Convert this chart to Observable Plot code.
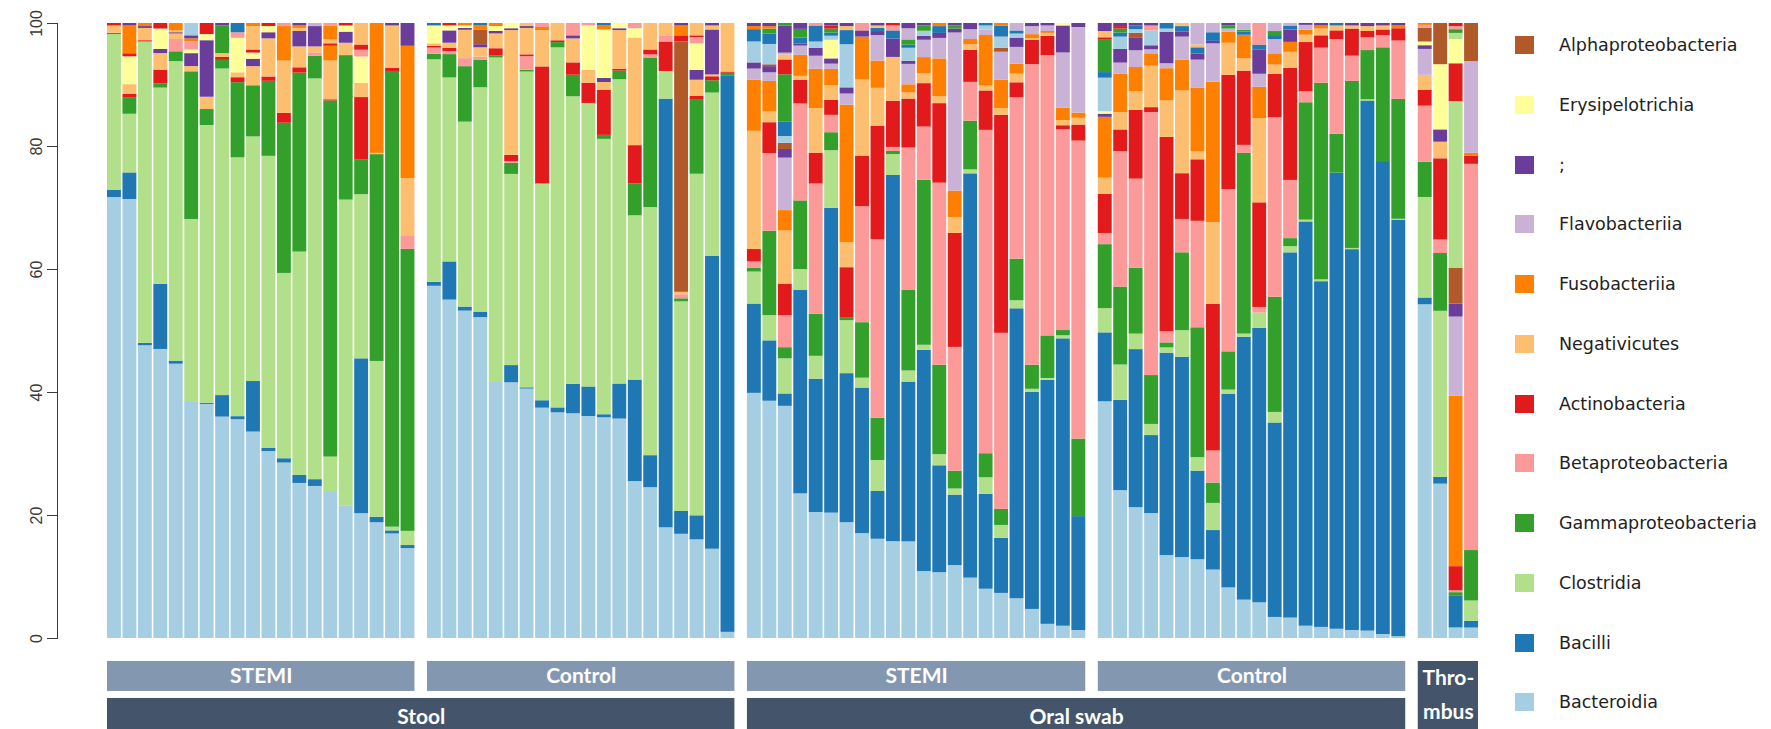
<!DOCTYPE html>
<html><head><meta charset="utf-8">
<script src="https://cdn.jsdelivr.net/npm/d3@7"></script>
<script src="https://cdn.jsdelivr.net/npm/@observablehq/plot@0.6"></script>
<style>
body{margin:0;background:#fff;}
#wrap{position:relative;width:1771px;height:729px;overflow:hidden;background:#fff;}
#wrap svg{position:absolute;left:0;top:0;}
.li{position:absolute;left:1515px;height:20px;display:flex;align-items:center;font-family:"DejaVu Sans",sans-serif;font-size:17.5px;color:#222;white-space:nowrap;}
.sw{width:19px;height:18px;margin-right:25px;flex:none;}
</style></head><body><div id="wrap"></div>
<script>
// class names (stacking order from bottom) and their colours (RColorBrewer "Paired")
const taxa = ["Bacteroidia","Bacilli","Clostridia","Gammaproteobacteria","Betaproteobacteria","Actinobacteria","Negativicutes","Fusobacteriia","Flavobacteriia",";","Erysipelotrichia","Alphaproteobacteria"];
const colors = ["#a6cee3","#1f78b4","#b2df8a","#33a02c","#fb9a99","#e31a1c","#fdbf6f","#ff7f00","#cab2d6","#6a3d9a","#ffff99","#b15928"];
const legendOrder = [11,10,9,8,7,6,5,4,3,2,1,0];
const groupLabels = ["STEMI","Control","STEMI","Control",null];
const siteLabels = ["Stool","Oral swab","Thro-\nmbus"];
const sitePanels = [[0,1],[2,3],[4,4]];

// each bar: [class slot, relative abundance %] from bottom to top; slots >= 12 are further classes (colours cycle)
const stoolSTEMI = [
 [[0,71.7],[1,1.2],[2,25.3],[3,0.2],[6,1.2],[17,0.4]],
 [[0,71.1],[1,4.3],[2,9.5],[3,2.7],[5,0.5],[6,1.6],[10,4.5],[17,0.5],[19,4.5],[21,0.4]],
 [[0,47.6],[1,0.4],[2,49],[5,0.2],[6,2],[9,0.3],[19,0.5]],
 [[0,47],[1,10.6],[2,31.9],[3,0.7],[5,2.2],[6,2.7],[9,0.7],[10,3.3],[17,0.9]],
 [[0,44.6],[1,0.5],[2,48.7],[3,1.6],[4,2],[6,0.9],[9,0.2],[18,0.3],[19,1.2]],
 [[0,38.5],[2,29.6],[3,24],[6,0.85],[9,2.1],[10,0.6],[16,1.3],[19,0.5],[21,0.5],[24,2]],
 [[0,38.1],[1,0.2],[2,45.2],[3,2.6],[6,2],[9,9.2],[10,1],[17,1.8]],
 [[0,36],[1,3.5],[2,53.1],[3,1.4],[5,0.5],[6,0.6],[15,4.5],[21,0.4]],
 [[0,35.5],[1,0.5],[2,42],[3,12.2],[5,0.8],[6,0.8],[10,5.6],[16,0.9],[25,1.5]],
 [[0,33.5],[1,8.2],[2,39.7],[3,8.3],[6,3.1],[9,1.2],[10,1],[17,0.5],[18,3.8],[19,0.5]],
 [[0,30.4],[1,0.5],[2,47.5],[3,12.2],[5,0.7],[6,6.2],[9,1],[10,1],[17,0.5]],
 [[0,28.5],[1,0.7],[2,30.1],[3,24.4],[5,1.6],[6,8.5],[7,5.6],[16,0.5]],
 [[0,25.2],[1,1.3],[2,36.3],[3,29.1],[5,0.85],[6,3.4],[9,2.5],[18,0.5],[19,0.4],[21,0.4]],
 [[0,24.7],[1,1.1],[2,65.1],[3,3.7],[4,0.5],[6,1],[9,3.3],[20,0.5]],
 [[0,23.9],[2,5.6],[3,57.9],[5,0.2],[6,6.3],[7,2.4],[17,0.4],[18,0.7],[19,2.2],[28,0.4]],
 [[0,21.5],[2,49.5],[3,23.4],[6,2],[9,1.8],[10,1],[17,0.4]],
 [[0,20.3],[1,25.2],[2,26.7],[3,5.7],[5,10.1],[6,2.3],[10,4.3],[16,1.1],[17,0.85],[18,3.5]],
 [[0,18.8],[1,0.9],[2,25.3],[3,33.6],[6,0.2],[7,21.1]],
 [[0,17],[1,0.5],[2,0.6],[3,74.1],[5,0.5],[6,6.9],[9,0.4]],
 [[0,14.6],[1,0.5],[2,2.3],[3,45.8],[4,2.1],[6,9.4],[7,21.5],[9,3.7]]
];
const stoolControl = [
 [[0,57.3],[1,0.65],[2,36.2],[3,0.9],[4,1],[5,0.3],[6,0.4],[10,2.9],[13,0.4]],
 [[0,55],[1,6.2],[2,29.9],[3,3.8],[4,0.5],[5,0.5],[6,0.85],[9,2],[10,0.8],[17,0.4]],
 [[0,53.1],[1,0.65],[2,30],[3,9],[4,1.3],[6,4.6],[9,0.3],[10,0.4],[19,0.4]],
 [[0,52.2],[1,0.9],[2,36.5],[3,4.5],[4,0.5],[6,1.5],[9,0.5],[11,2.4],[19,0.65],[25,0.4]],
 [[0,41.75],[2,52.6],[3,0.3],[5,1.2],[6,2.4],[9,0.4],[10,0.8],[19,0.5]],
 [[0,41.6],[1,2.8],[2,31.1],[3,1.8],[4,0.3],[5,1],[6,20.3],[9,0.3],[10,0.85]],
 [[0,40.6],[1,0.2],[2,51.4],[3,0.3],[4,2.2],[5,0.3],[6,4.3],[9,0.3],[18,0.5]],
 [[0,37.4],[1,1.2],[2,35.2],[5,19],[6,5.9],[7,0.5],[16,0.65]],
 [[0,36.6],[1,0.8],[2,58.4],[3,0.85],[5,0.3],[6,2.8]],
 [[0,36.5],[1,4.8],[2,46.7],[3,3.5],[5,2],[6,3.9],[9,0.5],[16,2]],
 [[0,36.1],[1,4.8],[2,46.1],[5,3.3],[6,2.1],[10,7.2],[16,0.4]],
 [[0,35.9],[1,0.5],[2,44.8],[3,0.65],[5,7.3],[6,1.3],[9,0.65],[10,7.9],[19,0.65],[25,0.4]],
 [[0,35.7],[1,5.7],[2,49.5],[3,1.4],[5,0.3],[6,6.3],[9,0.3],[10,0.85]],
 [[0,25.5],[1,16.5],[2,26.7],[3,5.2],[5,6.2],[6,17.5],[10,1.5],[16,0.85]],
 [[0,24.5],[1,5.2],[2,40.3],[3,24.3],[4,0.5],[5,0.8],[6,4.3]],
 [[0,18],[1,69.7],[2,4.5],[5,4.8],[16,1],[18,2]],
 [[0,16.9],[1,3.7],[2,34],[3,0.5],[4,0.65],[6,0.4],[11,40.6],[17,1],[19,1.6],[21,0.4]],
 [[0,16],[1,3.9],[2,55.4],[3,12],[5,0.65],[6,2.6],[9,1.6],[10,4.3],[16,1],[17,0.3],[18,2]],
 [[0,14.5],[1,47.6],[2,26.5],[3,2],[5,0.65],[6,0.3],[9,7.3],[18,0.65],[21,0.4]],
 [[0,1],[1,90.5],[3,0.5],[5,0.2],[6,7.9]]
];
const oralSTEMI = [
 [[0,39.8],[1,14.5],[2,5.2],[3,0.65],[4,1],[5,2],[6,19.2],[7,8.3],[8,1.8],[9,1],[12,3.4],[13,2],[19,0.5],[21,0.5]],
 [[0,38.5],[1,9.8],[2,4.1],[3,13.7],[4,12.6],[5,5],[6,1.8],[7,4.9],[8,1.4],[9,1],[11,0.3],[12,3.3],[13,1.7],[15,0.8],[19,0.4],[21,0.5]],
 [[0,37.6],[1,2],[2,5.7],[3,1.8],[4,5.2],[5,5.1],[6,8.6],[7,3.3],[8,8.5],[9,1.4],[11,1],[12,1.1],[13,2.3],[15,7.7],[17,2.4],[18,0.8],[20,0.3],[21,4.4],[27,0.4]],
 [[0,23.4],[1,32.9],[2,3.4],[3,11.1],[4,15.7],[5,3.8],[6,0.65],[7,3.4],[8,1.5],[9,0.3],[13,1],[15,1.4],[21,0.95]],
 [[0,20.4],[1,21.6],[2,3.7],[3,6.8],[4,21.1],[5,5],[6,7.2],[7,6.4],[8,2.1],[9,1.3],[12,1],[13,2.6],[16,0.4]],
 [[0,20.2],[1,49.1],[2,9.3],[3,2.9],[4,2.8],[5,2.4],[6,2.4],[7,2.6],[8,0.85],[9,0.85],[10,3],[12,0.65],[13,0.5],[15,0.65],[17,0.5],[21,0.4]],
 [[0,18.8],[1,24.2],[2,8.6],[3,0.5],[5,8.1],[6,4.1],[7,22.3],[8,1.8],[9,1],[12,7],[13,2.3],[18,0.65],[21,0.5]],
 [[0,17],[1,23.6],[2,1.6],[3,9],[4,18.8],[5,8.2],[6,12.4],[7,6.9],[9,1],[16,1.2]],
 [[0,16],[1,7.7],[2,5],[3,6.8],[4,28.8],[5,18.3],[6,6.1],[7,4.4],[8,4.1],[9,0.65],[13,0.5],[18,0.4],[21,0.4]],
 [[0,15.7],[1,59.4],[2,3.4],[3,0.5],[4,0.65],[5,7.5],[6,7.1],[9,3],[13,1.3],[16,0.8],[17,0.4]],
 [[0,15.6],[1,25.8],[2,1.8],[3,13],[4,23],[5,7.9],[6,1],[7,1.3],[8,3.3],[9,0.5],[12,2.1],[13,0.5],[15,0.85],[20,1.8],[21,0.85]],
 [[0,10.8],[1,35.7],[2,0.8],[3,26.6],[4,8.6],[5,7],[6,1.6],[7,2.6],[8,2.8],[9,0.65],[12,0.8],[15,0.85],[21,0.4]],
 [[0,10.6],[1,17.2],[2,1.8],[3,14.4],[4,29.3],[5,12.8],[6,1.1],[7,6.1],[8,3.3],[9,0.8],[13,1.1],[19,0.5]],
 [[0,11.9],[1,11.5],[2,1],[3,2.9],[4,20.2],[5,18.6],[6,2.6],[7,4.3],[8,25.8],[9,0.65],[15,0.5],[21,0.4]],
 [[0,9.8],[1,65.6],[2,0.65],[3,7.9],[4,6.3],[5,5.2],[6,0.9],[7,0.85],[8,1.6],[9,1]],
 [[0,8],[1,15.4],[2,2.7],[3,3.9],[4,52.5],[5,6.4],[6,0.8],[7,8.2],[8,0.9],[12,0.65],[13,0.4]],
 [[0,7.3],[1,8.9],[2,2.1],[3,2.6],[4,28.5],[5,35.3],[6,1.1],[7,4.6],[8,4.5],[11,0.65],[12,1.8],[13,1.8],[19,0.4]],
 [[0,6.4],[1,46.7],[2,1.3],[3,6.7],[4,26],[5,2.4],[6,1.4],[7,1.6],[8,2.7],[9,1.5],[12,0.65],[13,0.5],[20,1.2]],
 [[0,4.7],[1,35.1],[2,0.5],[3,3.9],[4,48.6],[5,3.9],[6,0.3],[7,0.65],[8,1.3],[9,0.5]],
 [[0,2.3],[1,39.6],[2,0.3],[3,6.9],[4,45.5],[5,3.1],[6,0.5],[7,0.3],[8,0.9],[9,0.4]],
 [[0,2],[1,46.8],[2,0.5],[3,0.85],[4,32.7],[5,0.65],[6,0.85],[7,2],[8,9],[9,4.4],[10,0.4]],
 [[0,1.3],[1,18.5],[3,12.6],[4,48.4],[5,2.6],[6,1.1],[7,0.85],[8,13.9],[9,0.65]]
];
const oralControl = [
 [[0,38.1],[1,11.1],[2,3.9],[3,10.3],[4,1.8],[5,6.3],[6,2.6],[7,9.8],[9,0.5],[10,0.4],[12,5.4],[13,0.9],[15,5.2],[17,0.4],[18,1],[21,1.3]],
 [[0,23.9],[1,14.6],[2,5.7],[3,12.6],[4,21.9],[5,3.5],[6,2.8],[7,6.2],[8,1.8],[9,2.2],[12,2],[13,0.65],[15,0.65],[17,0.4],[21,0.5]],
 [[0,21.1],[1,25.5],[2,2.5],[3,10.6],[4,14.4],[5,11.1],[6,3],[7,3.9],[8,2.7],[9,2],[11,0.8],[12,0.6],[13,0.6],[21,0.4]],
 [[0,20.2],[1,12.6],[2,1.8],[3,7.9],[4,42.5],[5,0.8],[6,6.7],[7,2],[8,0.65],[9,0.65],[12,2.4],[16,0.8],[21,0.4]],
 [[0,13.4],[1,32.7],[2,0.85],[3,0.8],[4,1.8],[5,31.4],[6,5.9],[7,5.2],[8,0.8],[9,5.1],[12,0.5],[13,0.9]],
 [[0,13.1],[1,32.4],[2,4.3],[3,12.6],[4,5.4],[5,7.4],[6,13.4],[7,5],[8,3.7],[9,0.85],[13,0.85],[18,0.5]],
 [[0,12.8],[1,14.4],[2,2.2],[3,21.1],[4,17.3],[5,10],[6,1.3],[7,10.3],[8,4.6],[9,1],[13,1],[18,0.45],[20,3.5]],
 [[0,11.1],[1,6.4],[2,4.4],[3,3.3],[4,5.2],[5,23.8],[6,13.2],[7,22.8],[8,6.2],[9,0.4],[13,1.4],[20,1.5]],
 [[0,8.2],[1,31.4],[2,0.65],[3,6.2],[4,26.3],[5,18.5],[6,5.2],[7,1.8],[8,0.5],[15,0.5],[21,0.4]],
 [[0,6.2],[1,42.5],[2,0.5],[3,29.2],[4,1.3],[5,12],[6,2],[7,3.8],[13,0.5],[15,0.3],[20,1.1]],
 [[0,5.8],[1,44.6],[2,2.5],[4,0.9],[5,17],[6,13.7],[7,5.1],[8,2.1],[9,3.9],[13,0.85],[16,3.5]],
 [[0,3.4],[1,31.4],[2,1.7],[3,18.6],[4,29],[5,7],[6,1.5],[7,1.8],[8,2.3],[13,0.65],[15,0.65],[20,1.3]],
 [[0,3.3],[1,59],[2,1],[3,1.3],[4,9.4],[5,18.1],[6,2.6],[7,1.6],[9,2],[13,0.65],[20,0.4]],
 [[0,2],[1,65.8],[2,0.3],[3,19.1],[4,1.8],[5,8],[6,1.2],[7,0.8],[8,0.8],[9,0.3]],
 [[0,1.8],[1,56.1],[2,0.3],[3,31.9],[4,5.7],[5,2],[6,1.1],[7,0.5],[9,0.4]],
 [[0,1.5],[1,74.1],[3,6.3],[4,15.4],[5,1.4],[6,0.8],[13,0.4]],
 [[0,1.3],[1,61.8],[2,0.2],[3,27.1],[4,4.1],[5,4.4],[6,0.5],[9,0.4]],
 [[0,1.2],[1,86.2],[2,0.2],[3,8],[4,2.1],[5,1],[6,0.8],[9,0.5]],
 [[0,0.65],[1,76.9],[3,18.5],[4,2],[5,0.9],[6,0.65],[9,0.4]],
 [[0,0.3],[1,67.7],[2,0.2],[3,19.5],[4,9.5],[5,2],[7,0.45],[9,0.4]]
];
const thrombus = [
 [[0,54.1],[1,1.1],[2,16.3],[3,5.7],[4,9.1],[5,2.6],[6,2.4],[8,4.2],[9,0.6],[10,0.6],[11,2.2],[16,0.5],[19,0.3]],
 [[0,25.1],[1,1.1],[2,27],[3,9.4],[4,2.2],[5,13.2],[6,2.7],[9,2],[10,10.6],[11,6.7]],
 [[0,1.7],[1,5.2],[3,0.5],[4,0.3],[5,3.9],[7,27.5],[8,12.8],[9,2.1],[11,5.8],[14,26.9],[17,6.1],[22,3.9],[26,1],[27,0.6],[28,0.5],[29,0.5]],
 [[0,1.7],[1,1.1],[2,3.3],[3,8.2],[4,62.8],[5,1.3],[7,0.5],[8,14.9],[11,6.2]]
];
const panels = [stoolSTEMI, stoolControl, oralSTEMI, oralControl, thrombus];

// layout parameters (in bar units)
const barWidth = 0.9, panelGap = 0.71;

const rows = [];
const panelSpans = [];
let g = 0;
panels.forEach((bars, p) => {
  const start = g + p * panelGap;
  bars.forEach((segs, b) => {
    const pos = g + p * panelGap;
    segs.forEach(([slot, v]) => rows.push({sample: `P${p}-${b + 1}`, x1: pos, x2: pos + barWidth, value: v, taxon: taxa[slot % 12]}));
    g++;
  });
  panelSpans.push({x1: start, x2: (g - 1) + p * panelGap + barWidth});
});
const xmax = panelSpans[4].x2;

const groupStrips = panelSpans.map((s, i) => ({...s, mid: (s.x1 + s.x2) / 2, label: groupLabels[i]})).filter(d => d.label);
const siteStrips = sitePanels.map(([a, b], i) => ({x1: panelSpans[a].x1, x2: panelSpans[b].x2, mid: (panelSpans[a].x1 + panelSpans[b].x2) / 2, label: siteLabels[i], thr: i === 2}));

const chart = Plot.plot({
  width: 1771, height: 729,
  marginLeft: 57, marginRight: 1771 - 1478, marginTop: 23, marginBottom: 91,
  x: {domain: [0, xmax], axis: null, insetLeft: 50},
  y: {percent: true, domain: [0, 100], ticks: [0, 20, 40, 60, 80, 100], tickRotate: -90, tickSize: 10, tickPadding: 6, line: true, label: null},
  color: {domain: taxa, range: colors},
  style: {fontFamily: "'Liberation Sans', Arial, sans-serif", fontSize: "16px", color: "#3a3a3a", background: "white", overflow: "visible"},
  marks: [
    Plot.rectY(rows, {x1: "x1", x2: "x2", y: "value", fill: "taxon", offset: "normalize"}),
    Plot.rect(groupStrips, {x1: "x1", x2: "x2", y1: -0.0374, y2: -0.0861, fill: "#8497b0"}),
    Plot.text(groupStrips, {x: "mid", y: -0.061, text: "label", fill: "white", fontWeight: "bold", fontSize: 21, fontFamily: "Lato"}),
    Plot.rect(siteStrips, {x1: "x1", x2: "x2", y1: d => d.thr ? -0.0374 : -0.0975, y2: -0.15, fill: "#44546a"}),
    Plot.text(siteStrips, {x: "mid", y: d => d.thr ? -0.0861 : -0.121, text: "label", fill: "white", fontWeight: "bold", fontSize: 21, fontFamily: "Lato", lineHeight: 1.62})
  ]
});
const wrap = document.getElementById("wrap");
wrap.appendChild(chart);

legendOrder.forEach((k, i) => {
  const d = document.createElement("div");
  d.className = "li";
  d.style.top = (45.2 + i * 59.75 - 10) + "px";
  d.innerHTML = `<span class="sw" style="background:${colors[k]}"></span><span>${taxa[k]}</span>`;
  wrap.appendChild(d);
});
</script></body></html>
